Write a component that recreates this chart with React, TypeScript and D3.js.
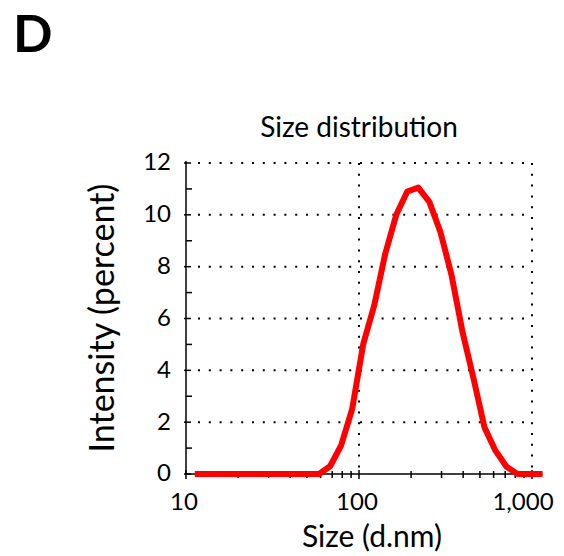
import React, { useRef, useEffect } from "react";
import * as d3 from "d3";

// DLS bin centres (nm) and intensity (%)
const sizes = [
  11.7, 13.54, 15.69, 18.17, 21.04, 24.36, 28.21, 32.67, 37.84, 43.82, 50.75,
  58.77, 68.06, 78.82, 91.28, 105.7, 122.4, 141.8, 164.2, 190.1, 220.2, 255.0,
  295.3, 342.0, 396.1, 458.7, 531.2, 615.1, 712.4, 825.0, 955.4, 1106,
];
const intensity = [
  0, 0, 0, 0, 0, 0, 0, 0, 0, 0, 0, 0, 0.3, 1.1, 2.5, 5.0, 6.5, 8.5, 10.0,
  10.9, 11.05, 10.5, 9.35, 7.7, 5.5, 3.7, 1.8, 0.9, 0.28, 0, 0, 0,
];
const yTicks = [0, 2, 4, 6, 8, 10, 12];
const yMinor = [1, 3, 5, 7, 9, 11];
const xTicks = [10, 100, 1000];
const xMinor = [20, 30, 40, 50, 60, 70, 80, 90, 200, 300, 400, 500, 600, 700, 800, 900];
const xGrid = [100, 1000];

const FONT = "Lato, 'Open Sans', sans-serif";

export default function App() {
  const svgRef = useRef<SVGSVGElement>(null);

  useEffect(() => {
    const width = 564;
    const height = 556;

    const svg = d3.select(svgRef.current)
      .attr("width", width)
      .attr("height", height)
      .attr("viewBox", [0, 0, width, height])
      .style("position", "absolute")
      .style("left", 0)
      .style("top", 0);

    svg.selectAll("*").remove();

    const x = d3.scaleLog().domain([10, 1000]).range([186, 532]);
    const y = d3.scaleLinear().domain([0, 12]).range([474, 163]);

    const data = sizes.map((s, i) => ({ size: s, value: intensity[i] }));

    // panel letter
    svg.append("text")
      .attr("x", 13)
      .attr("y", 52)
      .attr("font-family", FONT)
      .attr("font-weight", 700)
      .attr("font-size", 52)
      .text("D");

    // title
    svg.append("text")
      .attr("x", 359)
      .attr("y", 137)
      .attr("text-anchor", "middle")
      .attr("font-family", FONT)
      .attr("font-size", 28)
      .text("Size distribution");

    // grid
    const grid = svg.append("g")
      .attr("stroke", "#000")
      .attr("stroke-width", 2)
      .attr("stroke-dasharray", "2 8.8");

    grid.selectAll("line.h")
      .data(yTicks.filter(d => d > 0))
      .join("line")
        .attr("class", "h")
        .attr("x1", x(10) + 12)
        .attr("x2", x(1000))
        .attr("y1", d => y(d))
        .attr("y2", d => y(d));

    grid.selectAll("line.v")
      .data(xGrid)
      .join("line")
        .attr("class", "v")
        .attr("x1", d => x(d))
        .attr("x2", d => x(d))
        .attr("y1", y(12))
        .attr("y2", y(0));

    // axes lines
    const axes = svg.append("g").attr("stroke", "#000").attr("stroke-width", 1.5);
    axes.append("line")
      .attr("x1", x(10)).attr("x2", x(10))
      .attr("y1", y(12) - 2).attr("y2", y(0));
    axes.append("line")
      .attr("x1", x(10)).attr("x2", x(sizes[sizes.length - 1]) + 3)
      .attr("y1", y(0)).attr("y2", y(0));

    // y ticks
    axes.selectAll("line.ym")
      .data(yTicks)
      .join("line")
        .attr("class", "ym")
        .attr("x1", x(10) - 2).attr("x2", x(10) + 5)
        .attr("y1", d => y(d)).attr("y2", d => y(d));
    axes.selectAll("line.yn")
      .data(yMinor)
      .join("line")
        .attr("class", "yn")
        .attr("x1", x(10)).attr("x2", x(10) + 6)
        .attr("y1", d => y(d)).attr("y2", d => y(d));

    // x ticks
    axes.selectAll("line.xm")
      .data(xTicks)
      .join("line")
        .attr("class", "xm")
        .attr("x1", d => x(d)).attr("x2", d => x(d))
        .attr("y1", y(0) - 4).attr("y2", y(0) + 5);
    axes.selectAll("line.xn")
      .data(xMinor)
      .join("line")
        .attr("class", "xn")
        .attr("x1", d => x(d)).attr("x2", d => x(d))
        .attr("y1", y(0) - 3).attr("y2", y(0) + 4);

    // tick labels
    svg.append("g")
      .attr("font-family", FONT)
      .attr("font-size", 24)
      .attr("text-anchor", "end")
      .selectAll("text")
      .data(yTicks)
      .join("text")
        .attr("x", x(10) - 15)
        .attr("y", d => y(d) - 1)
        .attr("dy", "0.35em")
        .text(d => d);

    svg.append("g")
      .attr("font-family", FONT)
      .attr("font-size", 24)
      .attr("text-anchor", "middle")
      .selectAll("text")
      .data(xTicks)
      .join("text")
        .attr("x", d => x(d) - (d === 1000 ? 9 : 2))
        .attr("y", y(0) + 36)
        .text(d => d3.format(",")(d));

    // axis titles
    svg.append("text")
      .attr("x", 372)
      .attr("y", 547)
      .attr("text-anchor", "middle")
      .attr("font-family", FONT)
      .attr("font-size", 30)
      .text("Size (d.nm)");

    svg.append("text")
      .attr("transform", `translate(114,318) rotate(-90)`)
      .attr("text-anchor", "middle")
      .attr("font-family", FONT)
      .attr("font-size", 34)
      .text("Intensity (percent)");

    // curve
    const line = d3.line<{ size: number; value: number }>()
      .x(d => x(d.size))
      .y(d => y(d.value));

    svg.append("path")
      .datum(data)
      .attr("fill", "none")
      .attr("stroke", "#ff0000")
      .attr("stroke-width", 6)
      .attr("stroke-linejoin", "round")
      .attr("stroke-linecap", "square")
      .attr("d", line);
  }, []);

  return <svg ref={svgRef}></svg>;
}
